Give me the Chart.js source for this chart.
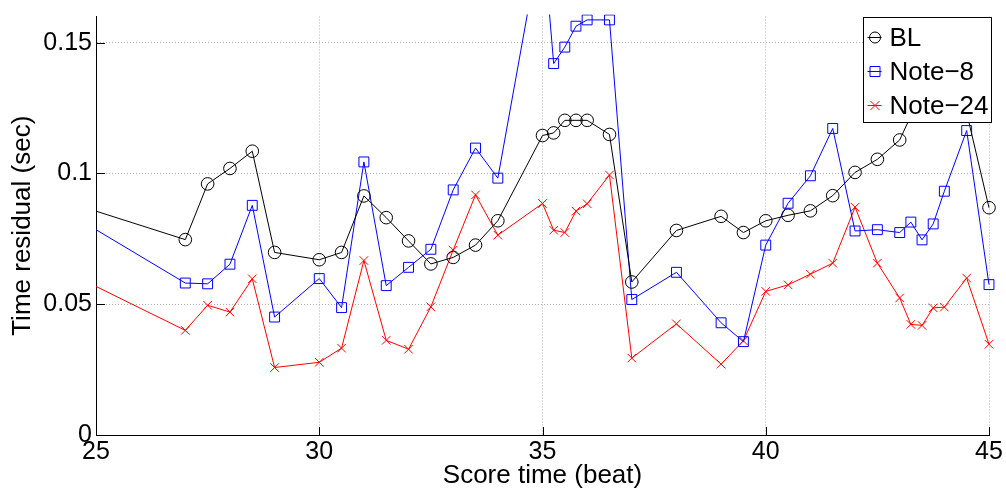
<!DOCTYPE html>
<html>
<head>
<meta charset="utf-8">
<title>Time residual</title>
<script src="https://cdn.jsdelivr.net/npm/chart.js@4.4.0/dist/chart.umd.min.js"></script>
<style>
  body { margin: 0; background: #fff; }
  #wrap { width: 1006px; height: 489px; }
</style>
</head>
<body>
<div id="wrap"><canvas id="residualChart" width="1006" height="489"></canvas></div>
<script>
// Score times (beat) shared by all series; first point sits left of the axis and is clipped
const beats = [24.5, 27, 27.5, 28, 28.5, 29, 30, 30.5, 31, 31.5, 32, 32.5, 33, 33.5, 34,
  35, 35.25, 35.5, 35.75, 36, 36.5, 37, 38, 39, 39.5, 40, 40.5, 41, 41.5, 42, 42.5,
  43, 43.25, 43.5, 43.75, 44, 44.5, 45];

const blValues = [0.0883, 0.0747, 0.0960, 0.1019, 0.1085, 0.0698, 0.0670, 0.0698, 0.0914, 0.0831,
  0.0742, 0.0654, 0.0679, 0.0726, 0.0819, 0.1145, 0.1155, 0.1203, 0.1203, 0.1203,
  0.1149, 0.0585, 0.0782, 0.0836, 0.0774, 0.0819, 0.0840, 0.0857, 0.0915, 0.1004,
  0.1054, 0.1128, 0.122, 0.128, 0.131, 0.129, 0.1232, 0.0869];

const note8Values = [0.0836, 0.0581, 0.0578, 0.0653, 0.0878, 0.0451, 0.0598, 0.0487, 0.1044, 0.0571,
  0.0641, 0.0710, 0.0937, 0.1097, 0.0982, 0.193, 0.1420, 0.1483, 0.1563, 0.1587,
  0.1587, 0.0518, 0.0622, 0.0429, 0.0357, 0.0726, 0.0886, 0.0991, 0.1172, 0.0780,
  0.0785, 0.0774, 0.0814, 0.0746, 0.0807, 0.0932, 0.1164, 0.0575];

const note24Values = [0.0610, 0.0400, 0.0496, 0.0470, 0.0597, 0.0258, 0.0278, 0.0332, 0.0667, 0.0362,
  0.0328, 0.0490, 0.0707, 0.0918, 0.0764, 0.0885, 0.0783, 0.0774, 0.0856, 0.0884,
  0.0994, 0.0294, 0.0425, 0.0271, 0.0360, 0.0549, 0.0574, 0.0615, 0.0657, 0.0871,
  0.0657, 0.0524, 0.0423, 0.0419, 0.0486, 0.0489, 0.0600, 0.0347];

const seriesNames = ['BL', 'Note\u22128', 'Note\u221224'];
const xTicks = [25, 30, 35, 40, 45];
const yTicks = [0, 0.05, 0.1, 0.15];

const FONT = "'Liberation Sans', Arial, Helvetica, sans-serif";

function toPoints(values) {
    return values.map((v, i) => ({ x: beats[i], y: v }));
}

// small marker drawing for the legend samples
function drawMarker(ctx, style, x, y, color) {
    ctx.save();
    ctx.strokeStyle = color;
    ctx.lineWidth = 1;
    ctx.beginPath();
    if (style === 'circle') {
        ctx.arc(x, y, 5.5, 0, Math.PI * 2);
    } else if (style === 'rect') {
        ctx.rect(x - 5, y - 5, 10, 10);
    } else {
        ctx.moveTo(x - 4.5, y - 4.5); ctx.lineTo(x + 4.5, y + 4.5);
        ctx.moveTo(x + 4.5, y - 4.5); ctx.lineTo(x - 4.5, y + 4.5);
    }
    ctx.stroke();
    ctx.restore();
}

// MATLAB style: ticks pointing into the plot, boxed legend in the top right corner
const matlabAxes = {
    id: 'matlabAxes',
    afterDraw(chart) {
        const { ctx, chartArea } = chart;
        const xs = chart.scales.x, ys = chart.scales.y;
        ctx.save();
        ctx.strokeStyle = '#000';
        ctx.lineWidth = 1;
        ctx.beginPath();
        xTicks.forEach(t => {
            const px = Math.round(xs.getPixelForValue(t)) + 0.5;
            ctx.moveTo(px, chartArea.bottom);
            ctx.lineTo(px, chartArea.bottom - 8);
        });
        yTicks.forEach(t => {
            const py = Math.round(ys.getPixelForValue(t)) + 0.5;
            ctx.moveTo(chartArea.left, py);
            ctx.lineTo(chartArea.left + 9, py);
        });
        ctx.stroke();

        // legend box
        const w = 128, h = 105;
        const lx = Math.round(chartArea.right - w + 2) + 0.5;
        const ly = Math.round(chartArea.top) + 0.5;
        ctx.fillStyle = '#fff';
        ctx.fillRect(lx, ly, w, h);
        ctx.strokeRect(lx, ly, w, h);

        ctx.font = '26px ' + FONT;
        ctx.textBaseline = 'middle';
        chart.data.datasets.forEach((ds, i) => {
            const ry = ly + 20 + i * 34;
            ctx.strokeStyle = ds.borderColor;
            ctx.beginPath();
            ctx.moveTo(lx + 4, ry);
            ctx.lineTo(lx + 18, ry);
            ctx.stroke();
            drawMarker(ctx, ds.pointStyle, lx + 11.5, ry, ds.borderColor);
            ctx.fillStyle = '#000';
            ctx.fillText(ds.label, lx + 26, ry + 1);
        });
        ctx.restore();
    }
};

function initResidualChart() {
    const ctx = document.getElementById('residualChart').getContext('2d');

    const data = {
        datasets: [
            {
                label: seriesNames[0],
                data: toPoints(blValues),
                borderColor: '#000000',
                pointStyle: 'circle',
                pointRadius: 6.3
            },
            {
                label: seriesNames[1],
                data: toPoints(note8Values),
                borderColor: '#0000ff',
                pointStyle: 'rect',
                pointRadius: 7
            },
            {
                label: seriesNames[2],
                data: toPoints(note24Values),
                borderColor: '#ff0000',
                pointStyle: 'crossRot',
                pointRadius: 6
            }
        ].map(ds => Object.assign(ds, {
            borderWidth: 1,
            pointBorderColor: ds.borderColor,
            pointBackgroundColor: 'rgba(0,0,0,0)',
            pointBorderWidth: 1,
            tension: 0,
            fill: false,
            // keep the off-axis points hidden but let markers at 45 show whole
            clip: { left: 0, top: 2, right: 10, bottom: 10 }
        }))
    };

    const config = {
        type: 'line',
        data: data,
        options: {
            responsive: false,
            animation: false,
            layout: { padding: { top: 13, right: 17, left: 0, bottom: 0 } },
            plugins: {
                legend: { display: false },
                tooltip: { enabled: false }
            },
            scales: {
                x: {
                    type: 'linear',
                    min: 25,
                    max: 45,
                    afterBuildTicks: scale => { scale.ticks = xTicks.map(v => ({ value: v })); },
                    afterFit: scale => {
                        scale.height = 54;
                        scale.paddingLeft = 0;
                        scale.paddingRight = 17;
                    },
                    grid: { color: '#b4b4b4', lineWidth: 1, drawTicks: false },
                    border: { display: true, color: '#000', width: 1, dash: [1, 2] },
                    ticks: {
                        color: '#000',
                        padding: 5,
                        maxRotation: 0,
                        font: { family: FONT, size: 25, lineHeight: 1 }
                    },
                    title: {
                        display: true,
                        text: 'Score time (beat)',
                        color: '#000',
                        font: { family: FONT, size: 26, lineHeight: 1 },
                        padding: { top: 0, bottom: 0 }
                    }
                },
                y: {
                    type: 'linear',
                    min: 0,
                    max: 0.16,
                    afterBuildTicks: scale => { scale.ticks = yTicks.map(v => ({ value: v })); },
                    afterFit: scale => { scale.width = 96; },
                    grid: { color: '#b4b4b4', lineWidth: 1, drawTicks: false },
                    border: { display: true, color: '#000', width: 1, dash: [1, 2] },
                    ticks: {
                        color: '#000',
                        padding: 4,
                        font: { family: FONT, size: 25, lineHeight: 1 },
                        callback: v => String(Math.round(v * 100) / 100)
                    },
                    title: {
                        display: true,
                        text: 'Time residual (sec)',
                        color: '#000',
                        font: { family: FONT, size: 26, lineHeight: 1 },
                        padding: { top: 10, bottom: 0 }
                    }
                }
            }
        },
        plugins: [matlabAxes]
    };

    new Chart(ctx, config);
}

document.addEventListener('DOMContentLoaded', function() {
    initResidualChart();
});
</script>
</body>
</html>
